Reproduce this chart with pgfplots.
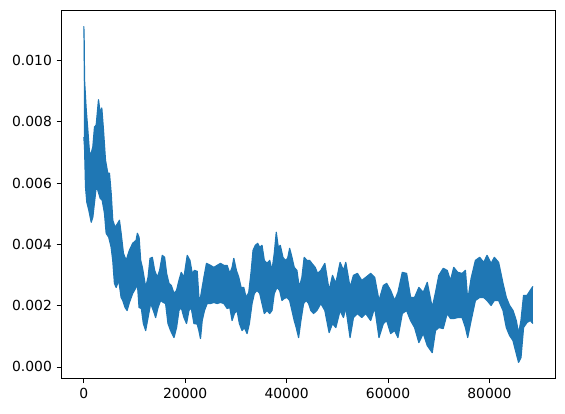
\documentclass[border=0pt]{standalone}
\usepackage{pgfplots}
\pgfplotsset{compat=1.18}
\usepackage{pgfplotstable}
\usepgfplotslibrary{fillbetween}
\usepackage{fontspec}
\setmainfont{DejaVu Sans}
\definecolor{mplblue}{HTML}{1F77B4}

% upper edge of the noisy series
\pgfplotstableread{
x      y
0      0.011113
60     0.010677
138    0.009369
472    0.008387
787    0.007733
1121   0.006980
1455   0.006980
1770   0.007176
2104   0.007831
2439   0.007896
2891   0.008720
3225   0.008289
3540   0.008452
3874   0.007733
4268   0.006751
4720   0.006325
5054   0.006325
5389   0.005671
5703   0.004787
6175   0.004558
6686   0.004689
7021   0.004787
7355   0.004362
7808   0.003708
8338   0.003478
8987   0.003806
9636   0.004035
10305  0.004133
10561  0.004362
10895  0.004231
11210  0.003478
11544  0.003249
11878  0.002922
12193  0.002595
12665  0.002922
13058  0.003544
13510  0.003577
13963  0.003151
14494  0.002922
14946  0.003151
15477  0.003642
15929  0.003577
16323  0.003053
16795  0.002726
17247  0.002660
17778  0.002399
18289  0.002497
18761  0.002824
19214  0.003086
19745  0.002922
20394  0.003642
20924  0.003478
21377  0.003053
21829  0.003151
22360  0.003120
22694  0.002268
23009  0.002268
23343  0.002595
23678  0.002922
24189  0.003380
24976  0.003315
25644  0.003249
26293  0.003315
26942  0.003380
27611  0.003315
28260  0.003315
28791  0.003053
29243  0.003249
29578  0.003544
30089  0.003151
30561  0.002922
31013  0.002595
31544  0.002595
31997  0.002268
32528  0.002431
32980  0.003086
33373  0.003806
33826  0.003969
34297  0.004035
34691  0.003904
35143  0.003969
35595  0.003478
36126  0.003380
36657  0.003478
37109  0.003151
37562  0.003708
37955  0.004395
38348  0.003904
38742  0.003969
39273  0.003577
39725  0.003478
40197  0.003544
40591  0.003871
41043  0.003577
41495  0.003249
42026  0.003151
42478  0.002595
43009  0.002922
43462  0.003577
43993  0.003478
44524  0.003478
44976  0.003380
45625  0.003249
46097  0.003053
46746  0.003151
47533  0.003380
48378  0.002497
49047  0.002988
49696  0.002726
50542  0.003413
51210  0.003151
51663  0.003413
52508  0.002595
53177  0.002988
53963  0.003053
54809  0.002824
55596  0.002922
56579  0.003053
57366  0.002922
58211  0.002170
59077  0.002660
59726  0.002726
60512  0.002497
61299  0.002170
61948  0.002431
62813  0.003086
63659  0.003053
64446  0.002268
65232  0.002268
66078  0.002595
66943  0.002431
67730  0.002759
68713  0.001940
69362  0.002431
70011  0.002988
70877  0.003217
71663  0.003151
72312  0.002824
72961  0.003249
73748  0.003086
74613  0.003053
75262  0.003151
75714  0.002170
76383  0.002889
77228  0.003478
78074  0.003577
78861  0.003413
79529  0.003642
80316  0.003380
80965  0.003577
81810  0.003413
82676  0.002726
83325  0.002268
83974  0.002006
84642  0.001842
85291  0.001515
85744  0.001090
86216  0.001515
86727  0.002333
87396  0.002333
88045  0.002497
88576  0.002628
}\upedge

% lower edge of the noisy series
\pgfplotstableread{
x      y
0      0.007503
138    0.007176
334    0.005867
590    0.005376
983    0.005115
1455   0.004722
1770   0.004886
2104   0.005376
2439   0.005867
2753   0.005769
3225   0.005507
3619   0.005442
4071   0.005016
4405   0.004362
4917   0.004231
5389   0.003904
5703   0.003478
6037   0.002726
6372   0.002595
6883   0.002824
7355   0.002268
7670   0.002170
8142   0.001940
8535   0.001842
8987   0.002104
9636   0.002399
10305  0.002595
10561  0.002726
10895  0.001940
11347  0.001908
11741  0.001417
12193  0.001188
12665  0.001613
13176  0.002071
13707  0.001842
14160  0.001613
14631  0.001940
15143  0.002170
15674  0.002104
16126  0.002071
16598  0.001417
17109  0.001188
17778  0.000959
18289  0.001286
18761  0.001842
19214  0.001940
19745  0.001613
20256  0.001417
20728  0.001842
21180  0.001940
21711  0.001417
22360  0.001400
22694  0.001188
23009  0.000926
23343  0.001515
23796  0.001842
24327  0.002071
24976  0.002071
25644  0.002104
26293  0.002071
26942  0.002104
27611  0.002071
28260  0.001908
28791  0.001940
29243  0.001515
29696  0.001744
30227  0.001842
30679  0.001417
31210  0.001188
31662  0.001286
32193  0.001090
32646  0.001417
33177  0.002071
33629  0.002399
34160  0.002497
34691  0.002399
35143  0.002071
35595  0.001744
36126  0.001842
36657  0.001744
37109  0.001842
37562  0.002399
38092  0.002595
38624  0.002497
39076  0.002170
39529  0.002235
40059  0.002268
40591  0.002170
41043  0.001842
41495  0.001515
41888  0.001286
42360  0.000959
42813  0.001515
43344  0.002071
43855  0.002170
44327  0.002071
44779  0.001842
45310  0.001744
45960  0.001842
46746  0.002071
47533  0.001842
48378  0.001122
49047  0.001417
49696  0.001286
50542  0.001842
51210  0.001613
51663  0.001940
52508  0.000959
53177  0.001613
53963  0.001744
54809  0.001613
55596  0.001744
56579  0.001515
57366  0.001940
58211  0.000959
59077  0.001417
59726  0.001515
60512  0.001090
61299  0.001188
61948  0.000959
62813  0.001744
63659  0.001842
64446  0.001515
65232  0.001286
66078  0.000795
66943  0.001090
67730  0.000697
68713  0.000468
69362  0.001188
70011  0.001286
70877  0.001253
71663  0.001744
72312  0.001581
72961  0.001581
73748  0.001613
74613  0.001613
75262  0.001286
75714  0.000959
76383  0.001515
77228  0.002170
78074  0.002268
78861  0.002268
79529  0.002170
80316  0.002006
80965  0.002170
81810  0.002170
82676  0.001842
83325  0.001286
83974  0.001024
84642  0.000861
85291  0.000435
85744  0.000150
86216  0.000304
86727  0.001286
87396  0.001450
88045  0.001515
88576  0.001417
}\lowedge

\begin{document}
\begin{tikzpicture}
\begin{axis}[
  scale only axis,
  width=369.75pt, height=276pt,
  xmin=-4425, xmax=92925,
  ymin=-0.000375, ymax=0.01165,
  xtick={0,20000,40000,60000,80000},
  ytick={0,0.002,0.004,0.006,0.008,0.010},
  scaled x ticks=false, scaled y ticks=false,
  xticklabel style={/pgf/number format/1000 sep={}},
  yticklabel style={/pgf/number format/.cd, fixed, fixed zerofill, precision=3},
  /pgf/number format/assume math mode=true,
  ticklabel style={font=\fontsize{10.4}{12}\selectfont},
  tick align=outside, xtick pos=left, ytick pos=left,
  major tick length=3.6pt,
  tick style={black, line width=0.6pt},
  axis line style={line width=0.6pt},
]
\addplot[name path=up, mplblue, line width=0.9pt, line join=round] table {\upedge};
\addplot[name path=lo, mplblue, line width=0.9pt, line join=round] table {\lowedge};
\addplot[mplblue] fill between[of=up and lo];
\end{axis}
\path (current axis.south west) ++(-46pt,-26pt);
\path (current axis.north east) ++(7.5pt,7.5pt);
\end{tikzpicture}
\end{document}
